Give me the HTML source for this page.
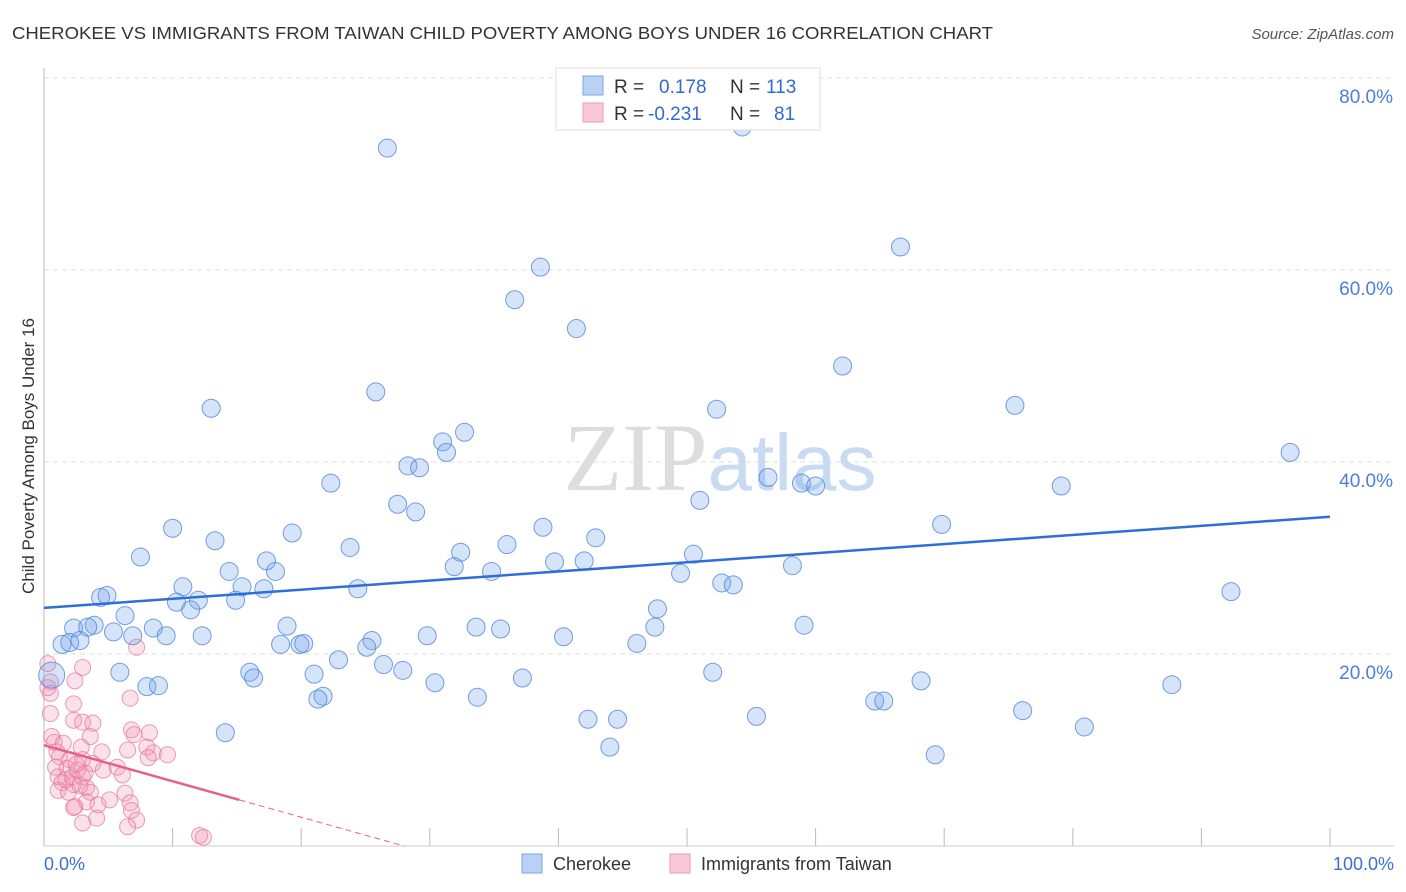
<!DOCTYPE html>
<html><head><meta charset="utf-8"><style>
body{margin:0;background:#fff;font-family:"Liberation Sans",sans-serif;}
svg{display:block}
</style></head><body>
<svg id="chart" width="1406" height="892">
<text x="12" y="39" font-size="17.5" fill="#333" textLength="981" lengthAdjust="spacingAndGlyphs">CHEROKEE VS IMMIGRANTS FROM TAIWAN CHILD POVERTY AMONG BOYS UNDER 16 CORRELATION CHART</text>
<text x="1394" y="39" font-size="15" fill="#555" text-anchor="end" font-style="italic">Source: ZipAtlas.com</text>
<g id="grid"></g>
<text x="720" y="490" font-size="96" fill="#ddd" text-anchor="middle" font-family="Liberation Serif,serif">ZIP<tspan fill="#c9dbf3" font-family="Liberation Sans,sans-serif" font-size="80">atlas</tspan></text>
<g id="pts"></g>
<g id="legend-top">
<rect x="556" y="68" width="264" height="62" fill="#fff" stroke="#ddd"/>
<rect x="583" y="76" width="20" height="19" fill="#b9d1f3" stroke="#7aa5e6"/>
<rect x="583" y="103" width="20" height="19" fill="#f9c9d8" stroke="#ec9ab5"/>
<text x="614" y="93" font-size="19" fill="#333">R = <tspan fill="#2f6bd6" x="659">0.178</tspan><tspan fill="#333" x="730">N = </tspan><tspan fill="#2f6bd6" x="766">113</tspan></text>
<text x="614" y="120" font-size="19" fill="#333">R = <tspan fill="#2f6bd6" x="648">-0.231</tspan><tspan fill="#333" x="730">N = </tspan><tspan fill="#2f6bd6" x="774">81</tspan></text>
</g>
<text x="34" y="456" font-size="17" fill="#333" text-anchor="middle" transform="rotate(-90 34 456)">Child Poverty Among Boys Under 16</text>
<text x="44" y="870" font-size="18" fill="#3b6fd4">0.0%</text>
<text x="1394" y="870" font-size="18" fill="#3b6fd4" text-anchor="end">100.0%</text>
<rect x="522" y="854" width="20" height="19" fill="#b9d1f3" stroke="#7aa5e6"/>
<text x="553" y="870" font-size="18" fill="#333">Cherokee</text>
<rect x="670" y="854" width="20" height="19" fill="#f9c9d8" stroke="#ec9ab5"/>
<text x="701" y="870" font-size="18" fill="#333">Immigrants from Taiwan</text>
</svg>
<script>
const yTicks=[20,40,60,80];
const yTickLabels=["20.0%","40.0%","60.0%","80.0%"];
const xTicks=[10,20,30,40,50,60,70,80,90,100];
const cherokeeX=[26.7,54.3,38.6,66.6,36.6,41.4,62.1,25.8,13.0,52.3,75.5,96.9,31.0,32.7,31.3,28.3,29.2,22.3,56.3,58.9,60.0,79.1,51.0,27.5,28.9,38.8,10.0,69.8,19.3,13.3,42.9,36.0,23.8,32.4,7.5,50.5,17.3,31.9,39.7,42.0,14.4,18.0,34.8,58.2,49.5,10.8,15.4,17.1,24.4,52.7,53.6,92.3,4.4,4.9,10.3,12.0,14.9,11.4,6.3,47.7,2.3,3.9,3.4,8.5,5.4,6.9,9.5,12.3,18.9,33.6,35.5,47.5,59.1,29.8,40.4,1.4,2.0,2.8,18.4,19.9,20.2,25.5,25.1,46.1,22.9,26.4,27.9,16.0,16.3,5.9,21.0,52.0,8.0,8.9,30.4,37.2,68.2,87.7,21.7,21.3,33.7,64.6,65.3,76.1,42.3,44.6,55.4,80.9,14.1,44.0,69.3,0.6];
const cherokeeY=[72.7,74.9,60.3,62.4,56.9,53.9,50.0,47.3,45.6,45.5,45.9,41.0,42.1,43.1,41.0,39.6,39.4,37.8,38.4,37.8,37.5,37.5,36.0,35.6,34.8,33.2,33.1,33.5,32.6,31.8,32.1,31.4,31.1,30.6,30.1,30.4,29.7,29.1,29.6,29.7,28.6,28.6,28.6,29.2,28.4,27.0,27.0,26.8,26.8,27.4,27.2,26.5,25.9,26.1,25.4,25.6,25.6,24.6,24.0,24.7,22.7,23.0,22.8,22.7,22.3,21.9,21.9,21.9,22.9,22.8,22.6,22.8,23.0,21.9,21.8,21.0,21.2,21.4,21.0,21.0,21.1,21.4,20.7,21.1,19.4,18.9,18.3,18.1,17.5,18.1,17.9,18.1,16.6,16.7,17.0,17.5,17.2,16.8,15.6,15.3,15.5,15.1,15.1,14.1,13.2,13.2,13.5,12.4,11.8,10.3,9.5,17.8];
const taiwanX=[7.2,3.0,2.4,0.5,0.5,6.7,2.3,0.5,2.3,3.0,3.8,6.8,8.2,7.0,3.6,0.6,0.8,1.5,2.9,4.5,6.5,8.0,8.5,9.6,8.1,1.2,2.0,3.0,3.8,0.9,1.8,2.6,4.6,5.7,6.1,1.1,2.2,3.0,1.4,2.3,3.3,1.1,1.9,3.6,6.3,5.1,3.3,6.7,2.4,4.2,2.3,6.8,4.1,7.2,3.0,6.5,12.1,12.4,1.0,2.5,3.2,1.7,2.8,0.3,0.3];
const taiwanY=[20.7,18.6,17.2,17.1,15.9,15.4,14.8,13.8,13.1,12.9,12.8,12.1,11.8,11.6,11.4,11.4,10.8,10.7,10.3,9.8,10.0,10.3,9.7,9.5,9.2,9.3,9.0,9.0,8.6,8.2,8.1,7.9,7.9,8.2,7.4,7.2,7.2,7.2,6.6,6.4,6.1,5.8,5.6,5.6,5.5,4.8,4.6,4.5,4.1,4.3,4.0,3.7,2.9,2.7,2.4,2.0,1.1,0.9,9.8,8.5,7.6,6.9,6.3,19.0,16.5];
const blueTrend=[24.8,34.3];
const pinkTrend=[10.5,-0.375];
const X0=44,X1=1330,Y0=846,PPY=9.6;
const sx=v=>X0+(X1-X0)*v/100, sy=v=>Y0-v*PPY;
const NS="http://www.w3.org/2000/svg";
function mk(t,a,p){const e=document.createElementNS(NS,t);for(const k in a)e.setAttribute(k,a[k]);p.appendChild(e);return e;}
const grid=document.getElementById('grid'),pts=document.getElementById('pts');
mk('line',{x1:44,y1:68,x2:44,y2:846,stroke:'#bbb'},grid);
mk('line',{x1:44,y1:846,x2:1394,y2:846,stroke:'#ccc'},grid);
yTicks.forEach((t,i)=>{
 const l=mk('line',{x1:44,y1:sy(t),x2:1394,y2:sy(t),stroke:'#ddd','stroke-dasharray':'5,4'},grid);
 
 
 const tx=mk('text',{x:1393,y:sy(t)+25,'font-size':19,fill:'#4a7fdc','text-anchor':'end'},grid);
 tx.textContent=yTickLabels[i];
 
 
});
xTicks.forEach(t=>{
 const l=mk('line',{x1:sx(t),y1:828,x2:sx(t),y2:846,stroke:'#bbb'},grid);
 
 
});
taiwanX.forEach((x,i)=>{
 const c=mk('circle',{cx:sx(x),cy:sy(taiwanY[i]),r:8,fill:'rgba(242,150,180,0.28)',stroke:'rgba(232,120,160,0.75)','stroke-width':1},pts);
 
 
});
cherokeeX.forEach((x,i)=>{
 const c=mk('circle',{cx:sx(x),cy:sy(cherokeeY[i]),r:i==cherokeeX.length-1?13:9,fill:'rgba(120,165,235,0.3)',stroke:'rgba(80,135,220,0.8)','stroke-width':1},pts);
 
 
});
const bl=mk('line',{x1:sx(0),y1:sy(blueTrend[0]),x2:sx(100),y2:sy(blueTrend[1]),stroke:'#2d6fd6','stroke-width':2.5},pts);


const pEnd=15.2, pZero=-pinkTrend[0]/pinkTrend[1];
const pl=mk('line',{x1:sx(0),y1:sy(pinkTrend[0]),x2:sx(pEnd),y2:sy(pinkTrend[0]+pinkTrend[1]*pEnd),stroke:'#e8608a','stroke-width':2.5},pts);


const pd=mk('line',{x1:sx(pEnd),y1:sy(pinkTrend[0]+pinkTrend[1]*pEnd),x2:sx(pZero),y2:sy(0),stroke:'#e8608a','stroke-width':1,'stroke-dasharray':'6,4'},pts);


</script>
</body></html>
